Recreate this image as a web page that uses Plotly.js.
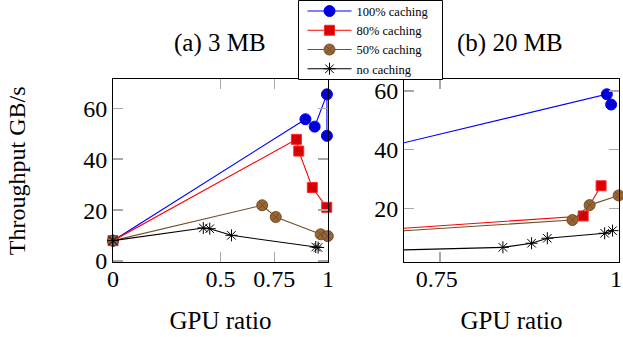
<!DOCTYPE html>
<html>
<head>
<meta charset="utf-8">
<script src="https://cdn.plot.ly/plotly-3.0.1.min.js"></script>
<style>html,body{margin:0;padding:0;background:#fff;}#chart{width:623px;height:337px;}</style>
</head>
<body>
<div id="chart"></div>
<script>
// ---- data: (a) 3 MB ----
const a_x100 = [0, 0.895, 0.938, 0.995, 0.995];
const a_y100 = [8, 55.7, 52.8, 65.5, 49.2];
const a_x80  = [0, 0.853, 0.864, 0.927, 0.994];
const a_y80  = [8, 47.8, 43.2, 28.9, 21.1];
const a_x50  = [0, 0.694, 0.757, 0.966, 0.999];
const a_y50  = [8, 21.9, 17.3, 10.5, 9.8];
const a_xno  = [0, 0.42, 0.45, 0.551, 0.943, 0.954];
const a_yno  = [8, 13.0, 12.7, 10.1, 5.5, 5.3];
// ---- data: (b) 20 MB ----
const b_x100 = [0, 0.983, 0.989];
const b_y100 = [1.5, 58.9, 55.4];
const b_x80  = [0, 0.95, 0.975];
const b_y80  = [1.5, 17.4, 27.7];
const b_x50  = [0, 0.935, 0.959, 0.9995];
const b_y50  = [1.5, 16.0, 21.1, 24.4];
const b_xno  = [0, 0.838, 0.878, 0.90, 0.98, 0.991];
const b_yno  = [1.5, 6.7, 8.1, 9.8, 11.5, 12.4];

const seriesNames = ['100% caching', '80% caching', '50% caching', 'no caching'];
const panelTitles = ['(a) 3 MB', '(b) 20 MB'];
const xTicksA = [0, 0.5, 0.75, 1];
const xTickTextA = ['0', '0.5', '0.75', '1'];
const xTicksB = [0.75, 1];
const xTickTextB = ['0.75', '1'];
const yTicksA = [0, 20, 40, 60];
const yTicksB = [20, 40, 60];

const styles = [
  {line: {color: 'rgb(0,0,255)', width: 1.1},
   marker: {symbol: 'circle', size: 11, color: 'rgb(0,0,215)', line: {color: 'rgb(0,0,255)', width: 1}}},
  {line: {color: 'rgb(255,0,0)', width: 1.1},
   marker: {symbol: 'square', size: 10, color: 'rgb(215,0,0)', line: {color: 'rgb(255,40,40)', width: 1}}},
  {line: {color: 'rgb(115,77,38)', width: 1.1},
   marker: {symbol: 'circle-x', size: 11, color: 'rgb(153,102,51)', line: {color: 'rgb(115,77,38)', width: 1}}},
  {line: {color: 'rgb(0,0,0)', width: 1.1},
   marker: {symbol: 'asterisk-open', size: 10, color: 'rgb(0,0,0)', line: {color: 'rgb(0,0,0)', width: 1}}}
];

const A = [[a_x100, a_y100], [a_x80, a_y80], [a_x50, a_y50], [a_xno, a_yno]];
const B = [[b_x100, b_y100], [b_x80, b_y80], [b_x50, b_y50], [b_xno, b_yno]];

const traces = [];
A.forEach((d, i) => traces.push({
  x: d[0], y: d[1], type: 'scatter', mode: 'lines+markers', name: seriesNames[i],
  line: styles[i].line, marker: styles[i].marker, cliponaxis: false,
  xaxis: 'x', yaxis: 'y', legendgroup: 'g' + i, showlegend: true
}));
B.forEach((d, i) => traces.push({
  x: d[0], y: d[1], type: 'scatter', mode: 'lines+markers', name: seriesNames[i],
  line: styles[i].line, marker: styles[i].marker, cliponaxis: false,
  xaxis: 'x2', yaxis: 'y2', legendgroup: 'g' + i, showlegend: false
}));

const serif = "'Liberation Serif', 'Times New Roman', serif";
const W = 623, H = 337;
const px = v => v / W, py = v => (H - v) / H;

function axisBase() {
  return {
    showgrid: false, zeroline: false, showline: true, linecolor: '#000', linewidth: 1,
    mirror: 'allticks', ticks: 'inside', ticklen: 10, tickwidth: 1.5, tickcolor: '#a8a8a8',
    tickfont: {family: serif, size: 24, color: '#000'}, automargin: false, fixedrange: true,
    ticklabeloverflow: 'allow'
  };
}

const layout = {
  width: W, height: H,
  margin: {l: 0, r: 0, t: 0, b: 0, autoexpand: false},
  paper_bgcolor: '#fff', plot_bgcolor: '#fff',
  font: {family: serif, color: '#000'},
  xaxis: Object.assign(axisBase(), {
    domain: [px(113), px(328)], range: [0, 1], tickmode: 'array', tickvals: xTicksA, ticktext: xTickTextA,
    anchor: 'y', ticklabelstandoff: -5,
    title: {text: 'GPU ratio', font: {family: serif, size: 25, color: '#000'}, standoff: 20}
  }),
  yaxis: Object.assign(axisBase(), {
    domain: [py(262.3), py(79.3)], range: [-0.5, 71.4], tickmode: 'array', tickvals: yTicksA,
    anchor: 'x',
    title: {text: 'Throughput GB/s', font: {family: serif, size: 24, color: '#000'}, standoff: 50}
  }),
  xaxis2: Object.assign(axisBase(), {
    domain: [px(404), px(619)], range: [0.7, 1.0], tickmode: 'array', tickvals: xTicksB, ticktext: xTickTextB,
    anchor: 'y2', ticklabelstandoff: -5, ticklabelshift: -3,
    title: {text: 'GPU ratio', font: {family: serif, size: 25, color: '#000'}, standoff: 20}
  }),
  yaxis2: Object.assign(axisBase(), {
    domain: [py(262.3), py(79.3)], range: [1.6, 64], tickmode: 'array', tickvals: yTicksB,
    anchor: 'x2'
  }),
  annotations: [
    {text: panelTitles[0], xref: 'paper', yref: 'paper', x: px(220), y: py(43), xanchor: 'center', yanchor: 'middle',
     showarrow: false, font: {family: serif, size: 25, color: '#000'}},
    {text: panelTitles[1], xref: 'paper', yref: 'paper', x: px(510), y: py(43), xanchor: 'center', yanchor: 'middle',
     showarrow: false, font: {family: serif, size: 25, color: '#000'}}
  ],
  shapes: [
    {type: 'rect', xref: 'paper', yref: 'paper', x0: px(298.5), x1: px(442.5), y0: py(79.5), y1: py(0.5),
     fillcolor: '#fff', line: {color: '#000', width: 1}, layer: 'above'}
  ],
  showlegend: true,
  legend: {
    x: px(302.5), y: py(-3.6), xanchor: 'left', yanchor: 'top',
    bgcolor: 'rgba(0,0,0,0)', borderwidth: 0, itemwidth: 44,
    font: {family: serif, size: 12.5, color: '#000'}, tracegroupgap: 0
  }
};

Plotly.newPlot('chart', traces, layout, {displayModeBar: false, staticPlot: true});
</script>
</body>
</html>
